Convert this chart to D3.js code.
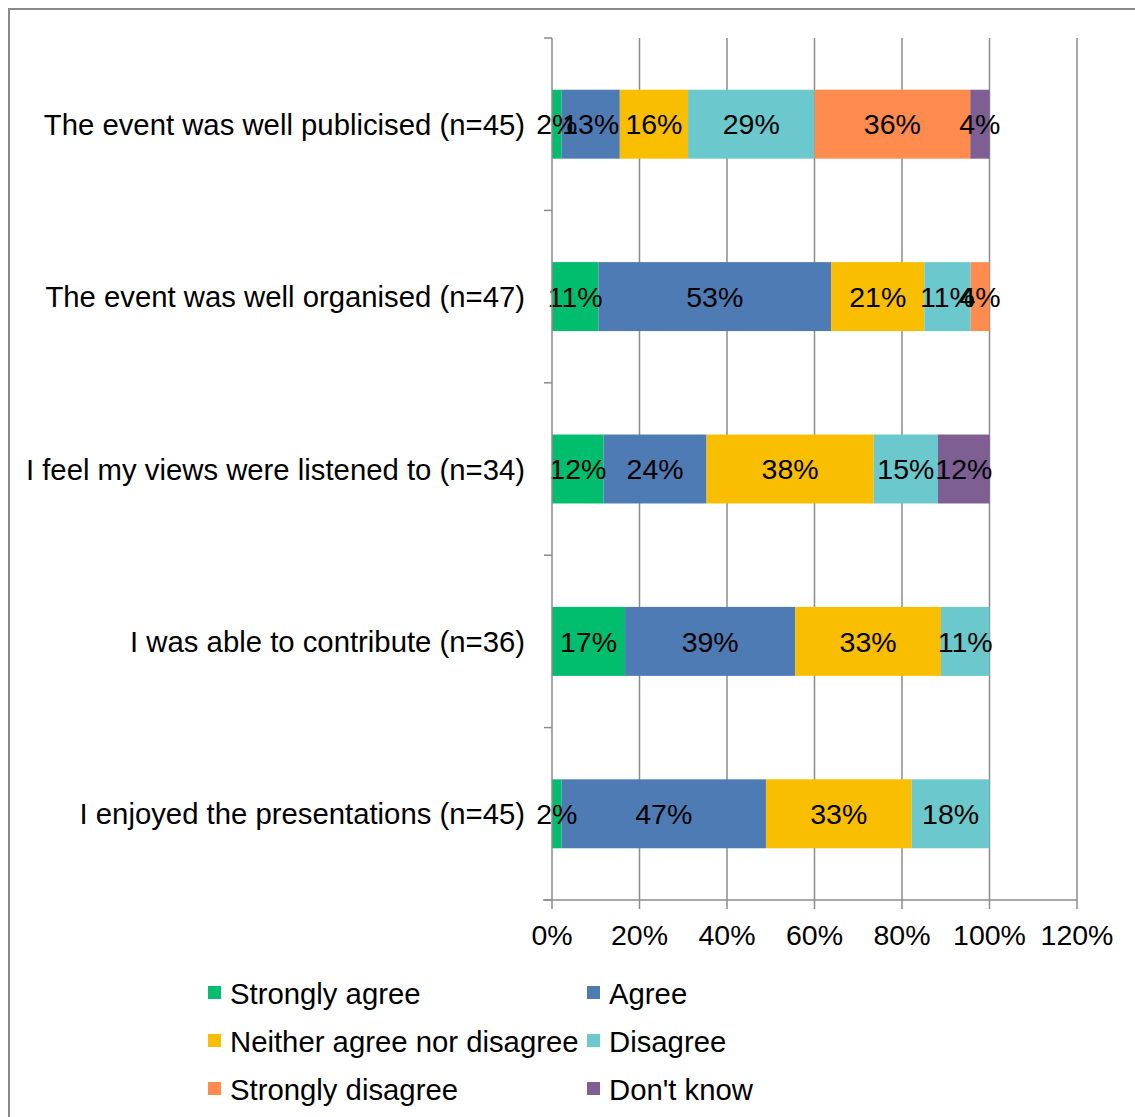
<!DOCTYPE html>
<html>
<head>
<meta charset="utf-8">
<script src="https://cdn.jsdelivr.net/npm/d3@7"></script>
<style>
  html, body { margin: 0; padding: 0; background: #fff; }
  svg { display: block; font-family: "Liberation Sans", Arial, sans-serif; }
</style>
</head>
<body>
<svg id="chart" width="1135" height="1117"></svg>
<script>
// ---- data ----
const categories = [
  "The event was well publicised (n=45)",
  "The event was well organised (n=47)",
  "I feel my views were listened to (n=34)",
  "I was able to contribute (n=36)",
  "I enjoyed the presentations (n=45)"
];
const seriesNames = ["Strongly agree", "Agree", "Neither agree nor disagree", "Disagree", "Strongly disagree", "Don't know"];
const stronglyAgree = [2.2, 10.6, 11.8, 16.7, 2.2];
const agree = [13.3, 53.2, 23.53, 38.9, 46.7];
const neither = [15.6, 21.3, 38.2, 33.3, 33.3];
const disagree = [28.9, 10.6, 14.7, 11.1, 17.8];
const stronglyDisagree = [35.6, 4.3, 0, 0, 0];
const dontKnow = [4.4, 0, 11.8, 0, 0];
const xTicks = [0, 20, 40, 60, 80, 100, 120];
const colors = ["#00BE6E", "#4F7BB5", "#F9BE00", "#6BC8CC", "#FF8B4E", "#7D5F93"];

const seriesValues = [stronglyAgree, agree, neither, disagree, stronglyDisagree, dontKnow];
const rows = categories.map((c, i) => {
  const r = { cat: c };
  seriesNames.forEach((s, j) => r[s] = seriesValues[j][i]);
  return r;
});

const svg = d3.select("#chart");

// outer border
svg.append("rect").attr("x", 9).attr("y", 9).attr("width", 1140).attr("height", 1120)
  .attr("fill", "none").attr("stroke", "#888").attr("stroke-width", 2);

const x = d3.scaleLinear().domain([0, 120]).range([552, 1077]);
const y = d3.scaleBand().domain(categories).range([38, 900]).padding(0);
const barH = y.bandwidth() * 0.4;

// gridlines
svg.append("g").selectAll("line").data(xTicks.filter(t => t > 0)).join("line")
  .attr("x1", d => x(d)).attr("x2", d => x(d))
  .attr("y1", 38).attr("y2", 900)
  .attr("stroke", "#8c8c8c").attr("stroke-width", 1.5);

// bars
const stack = d3.stack().keys(seriesNames)(rows);
const g = svg.append("g");
stack.forEach((layer, j) => {
  layer.forEach(d => d.key = layer.key);
  g.selectAll(null).data(layer.filter(d => d.data[layer.key] > 0)).join("rect")
    .attr("x", d => x(d[0]))
    .attr("width", d => x(d[1]) - x(d[0]))
    .attr("y", d => y(d.data.cat) + (y.bandwidth() - barH) / 2)
    .attr("height", barH)
    .attr("fill", colors[j]);
});
stack.forEach((layer, j) => {
  g.selectAll(null).data(layer.filter(d => d.data[layer.key] > 0)).join("text")
    .attr("x", d => (x(d[0]) + x(d[1])) / 2)
    .attr("y", d => y(d.data.cat) + y.bandwidth() / 2)
    .attr("dy", "0.36em")
    .attr("text-anchor", "middle")
    .attr("font-size", 28.5)
    .attr("fill", "#000")
    .text(d => Math.round(d.data[layer.key]) + "%");
});

// y axis
const yAxis = svg.append("g").attr("transform", "translate(552,0)");
yAxis.append("line").attr("x1", 0).attr("x2", 0).attr("y1", 38).attr("y2", 900)
  .attr("stroke", "#8c8c8c").attr("stroke-width", 1.5);
const yEdges = categories.map(c => y(c)).concat([900]);
yAxis.selectAll("line.tk").data(yEdges).join("line").attr("class", "tk")
  .attr("x1", -8).attr("x2", 0).attr("y1", d => d).attr("y2", d => d)
  .attr("stroke", "#8c8c8c").attr("stroke-width", 1.5);
svg.append("g").selectAll("text").data(categories).join("text")
  .attr("x", 525).attr("y", d => y(d) + y.bandwidth() / 2)
  .attr("dy", "0.36em").attr("text-anchor", "end")
  .attr("font-size", 29.3).attr("fill", "#000")
  .text(d => d);

// x axis
const xAxis = svg.append("g").attr("transform", "translate(0,900)");
xAxis.append("line").attr("x1", 543).attr("x2", 1077).attr("y1", 0).attr("y2", 0)
  .attr("stroke", "#8c8c8c").attr("stroke-width", 1.5);
xAxis.selectAll("line.tk").data(xTicks).join("line").attr("class", "tk")
  .attr("x1", d => x(d)).attr("x2", d => x(d)).attr("y1", 0).attr("y2", 9)
  .attr("stroke", "#8c8c8c").attr("stroke-width", 1.5);
xAxis.selectAll("text").data(xTicks).join("text")
  .attr("x", d => x(d)).attr("y", 45)
  .attr("text-anchor", "middle").attr("font-size", 28.5).attr("fill", "#000")
  .text(d => d + "%");

// legend
const legPos = [[208, 993], [587, 993], [208, 1041], [587, 1041], [208, 1089], [587, 1089]];
const leg = svg.append("g");
seriesNames.forEach((s, j) => {
  const [lx, ly] = legPos[j];
  leg.append("rect").attr("x", lx).attr("y", ly - 7).attr("width", 13).attr("height", 13).attr("fill", colors[j]);
  leg.append("text").attr("x", lx + 22).attr("y", ly).attr("dy", "0.36em")
    .attr("font-size", 29.3).attr("fill", "#000").text(s);
});
</script>
</body>
</html>
